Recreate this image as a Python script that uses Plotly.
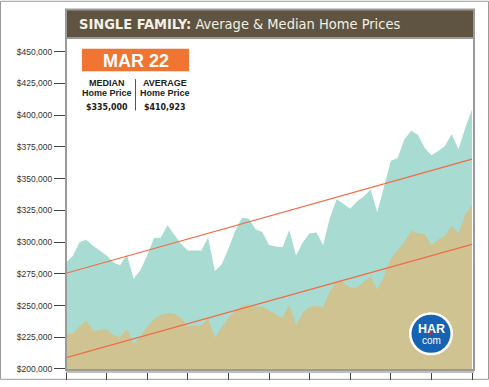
import plotly.graph_objects as go

# ---------------- data ----------------
months = [f"{m} {y}" for y in range(2017, 2023) for m in
          ["Jan", "Feb", "Mar", "Apr", "May", "Jun", "Jul", "Aug", "Sep", "Oct", "Nov", "Dec"]][2:63]

average_price = [
    283900, 289000, 299800, 301900, 297200, 293400, 289500, 283900, 281800, 290300,
    271000, 277900, 289500, 303200, 303400, 313200, 305500, 298500, 293400, 293400,
    293400, 303600, 277200, 282300, 294600, 308800, 319100, 318600, 310100, 308000,
    297700, 296500, 295900, 309600, 289500, 299800, 307000, 307500, 297700, 319100,
    333800, 330200, 326300, 332000, 336000, 341500, 323500, 343500, 364100, 366100,
    380800, 387700, 384600, 374400, 368400, 371800, 375700, 385200, 373100, 389800,
    404700,
]
median_price = [
    227800, 227800, 233400, 238000, 230300, 230300, 231600, 226500, 225200, 231600,
    219500, 225200, 233400, 239400, 242500, 244000, 243700, 240100, 233400, 234200,
    234200, 240100, 224700, 232900, 240600, 245800, 249600, 250900, 248800, 249200,
    246500, 243200, 240100, 250400, 234700, 244500, 248800, 249600, 248800, 261200,
    269400, 268400, 263800, 264300, 268600, 272800, 262500, 272800, 287000, 293400,
    299800, 308800, 307000, 306200, 297700, 301900, 304900, 312700, 307000, 321700,
    329400,
]
# trend line end points (first and last month)
average_trend = [275400, 365400]
median_trend = [209000, 298200]

y_ticks = [200000, 225000, 250000, 275000, 300000, 325000, 350000, 375000, 400000, 425000, 450000]

snapshot_label = "MAR 22"
snapshot_median = "$335,000"
snapshot_average = "$410,923"

# ---------------- geometry helpers ----------------
W, H = 489, 387
L, R, T, B = 66, 474, 38, 377
x_idx = list(range(len(months)))


def px(x):
    return (x - L) / (R - L)


def py(y):
    return (B - y) / (B - T)


TEAL = "#a8dbd2"
TAN = "#cfc392"
TREND = "#f26b45"

fig = go.Figure()
fig.add_trace(go.Scatter(x=x_idx, y=average_price, mode="lines", line=dict(width=0, color=TEAL),
                         fill="tozeroy", fillcolor=TEAL, text=months, name="Average",
                         hovertemplate="%{text}: %{y:$,.0f}<extra></extra>"))
fig.add_trace(go.Scatter(x=x_idx, y=median_price, mode="lines", line=dict(width=0, color=TAN),
                         fill="tozeroy", fillcolor=TAN, text=months, name="Median",
                         hovertemplate="%{text}: %{y:$,.0f}<extra></extra>"))
fig.add_trace(go.Scatter(x=[x_idx[0], x_idx[-1]], y=average_trend, mode="lines",
                         line=dict(width=1.2, color=TREND), hoverinfo="skip"))
fig.add_trace(go.Scatter(x=[x_idx[0], x_idx[-1]], y=median_trend, mode="lines",
                         line=dict(width=1.2, color=TREND), hoverinfo="skip"))

shapes = []
# whole image frame
shapes.append(dict(type="rect", xref="paper", yref="paper", x0=px(0.5), x1=px(488.5), y0=py(386.5), y1=py(0.5),
                   line=dict(color="#9a9a9a", width=1), fillcolor="rgba(0,0,0,0)", layer="below"))
# panel frame
shapes.append(dict(type="rect", xref="paper", yref="paper", x0=px(L), x1=px(R), y0=py(B), y1=py(T),
                   line=dict(color="#9a9a9a", width=2), fillcolor="rgba(0,0,0,0)", layer="above"))
# title box
shapes.append(dict(type="rect", xref="paper", yref="paper", x0=px(L), x1=px(R), y0=py(38), y1=py(9),
                   line=dict(color="#9a9a9a", width=2), fillcolor="#5f5441"))
# orange date box
shapes.append(dict(type="rect", xref="paper", yref="paper", x0=px(82), x1=px(189), y0=py(72), y1=py(49),
                   line=dict(width=0), fillcolor="#f07432"))
# divider
shapes.append(dict(type="line", xref="paper", yref="paper", x0=px(135.5), x1=px(135.5), y0=py(112), y1=py(80),
                   line=dict(color="#555", width=1)))
# HAR logo
cx, cy = 431, 340
shapes.append(dict(type="circle", xref="paper", yref="paper", x0=px(cx - 22), x1=px(cx + 22),
                   y0=py(cy + 22), y1=py(cy - 22), line=dict(width=0), fillcolor="white"))
shapes.append(dict(type="circle", xref="paper", yref="paper", x0=px(cx - 19.5), x1=px(cx + 19.5),
                   y0=py(cy + 19.5), y1=py(cy - 19.5), line=dict(width=0), fillcolor="#1763b3"))
shapes.append(dict(type="circle", xref="paper", yref="paper", x0=px(cx - 1.6), x1=px(cx + 1.6),
                   y0=py(cy - 0.5 + 1.6), y1=py(cy - 0.5 - 1.6), line=dict(width=0), fillcolor="#e0202a"))

NARROW = "DejaVu Sans Condensed, Liberation Sans Narrow, Arial Narrow, sans-serif"
ARIAL = "Liberation Sans, Arial, sans-serif"


def ann(text, x, y, size, color="#222", family=ARIAL, xanchor="center"):
    return dict(text=text, x=px(x), y=py(y), xref="paper", yref="paper", showarrow=False,
                xanchor=xanchor, yanchor="middle", font=dict(size=size, color=color, family=family))


annotations = [
    ann("<b>SINGLE FAMILY:</b> Average & Median Home Prices", 77, 23.5, 14.5, "#f4efe4", NARROW, "left"),
    ann("<b>" + snapshot_label + "</b>", 135.5, 61, 18, "white"),
    ann("<b>MEDIAN</b>", 107, 84, 9),
    ann("<b>Home Price</b>", 107, 94, 9),
    ann("<b>" + snapshot_median + "</b>", 107, 108, 8.8, family=NARROW),
    ann("<b>AVERAGE</b>", 165, 84, 9),
    ann("<b>Home Price</b>", 165, 94, 9),
    ann("<b>" + snapshot_average + "</b>", 165, 108, 8.8, family=NARROW),
    ann("<b>HAR</b>", cx, cy - 5, 12.5, "white"),
    ann("com", cx, cy + 7, 10, "white"),
]

fig.update_layout(
    width=W, height=H,
    margin=dict(l=L, r=W - R, t=T, b=H - B, pad=0),
    paper_bgcolor="white", plot_bgcolor="white",
    showlegend=False,
    shapes=shapes, annotations=annotations,
    xaxis=dict(range=[0, 60 * (R - L) / 406], showgrid=False, zeroline=False,
               tickmode="array", tickvals=x_idx[::6], showticklabels=False,
               ticks="outside", ticklen=7, tickcolor="#444", tickwidth=1,
               showline=True, linecolor="#bdbdbd", linewidth=3),
    yaxis=dict(range=[199200, 460800], showgrid=False, zeroline=False,
               tickmode="array", tickvals=y_ticks, tickformat="$,.0f",
               ticks="outside", ticklen=11, tickcolor="#444", tickwidth=1,
               tickfont=dict(size=8.5, color="#333", family=ARIAL),
               showline=False),
)

fig.write_html("out.html", config={"displayModeBar": False},
               post_script="document.body.style.margin='0';document.body.style.overflow='hidden';")
